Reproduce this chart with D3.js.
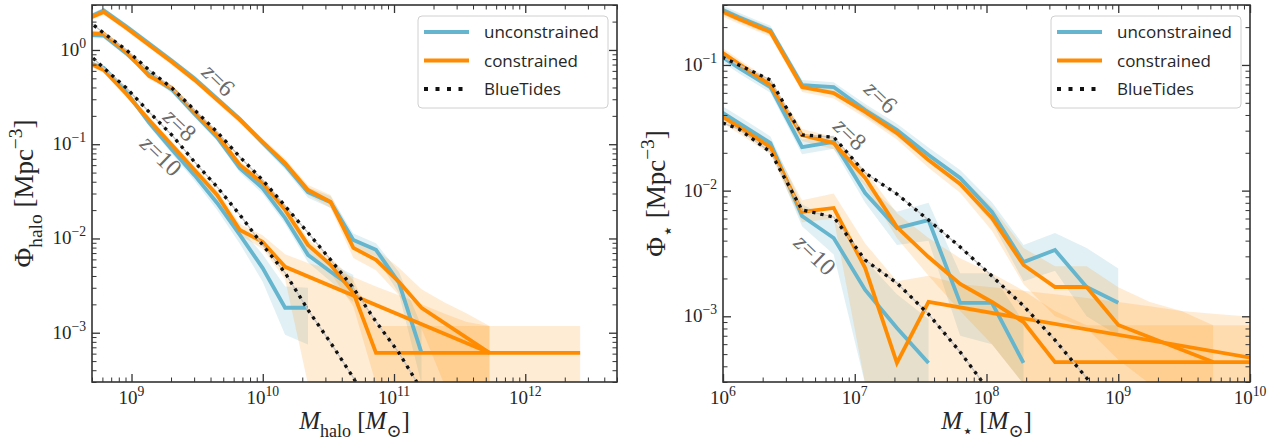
<!DOCTYPE html>
<html><head><meta charset="utf-8">
<script src="https://cdn.jsdelivr.net/npm/d3@7"></script>
<style>body{margin:0;background:#fff} svg{display:block}</style>
</head><body><svg id="c" width="1285" height="441"></svg>
<script>
// ---------------- DATA: halo mass function (left) ----------------
const haloMass = [4.12e8, 6.14e8, 9.14e8, 1.36e9, 2.03e9, 3.02e9, 4.49e9, 6.69e9, 9.96e9, 1.48e10, 2.21e10, 3.29e10, 4.90e10, 7.29e10, 1.09e11, 1.62e11, 2.41e11, 3.59e11, 5.34e11, 7.94e11, 1.18e12, 1.76e12, 2.62e12];
const _ = null;
const haloCon6   = [2.0, 2.53, 1.71, 1.13, 0.746, 0.481, 0.295, 0.181, 0.106, 0.0632, 0.0327, 0.0244, 0.00794, 0.00593, 0.00347, 0.00184, _, _, 0.000612, _, _, _, _];
const haloCon6Lo = [1.85, 2.36, 1.59, 1.05, 0.69, 0.445, 0.272, 0.166, 0.097, 0.057, 0.029, 0.021, 0.0062, 0.0046, 0.0025, 0.0011, 0, 0, 0, _, _, _, _];
const haloCon6Hi = [2.15, 2.7, 1.83, 1.21, 0.80, 0.52, 0.32, 0.197, 0.116, 0.070, 0.037, 0.029, 0.0102, 0.0077, 0.0049, 0.0029, 0.0021, 0.0016, 0.00118, _, _, _, _];
const haloUnc6   = [2.05, 2.62, 1.77, 1.17, 0.77, 0.50, 0.305, 0.185, 0.104, 0.060, 0.031, 0.0242, 0.00966, 0.00757, 0.0034, 0.000612, _, _, _, _, _, _, _];
const haloUnc6Lo = [1.9, 2.45, 1.65, 1.09, 0.72, 0.465, 0.284, 0.171, 0.095, 0.054, 0.027, 0.021, 0.0082, 0.0064, 0.0026, 0, _, _, _, _, _, _, _];
const haloUnc6Hi = [2.2, 2.8, 1.9, 1.25, 0.82, 0.535, 0.327, 0.199, 0.113, 0.066, 0.035, 0.028, 0.0113, 0.0089, 0.0044, 0.00118, _, _, _, _, _, _, _];
const haloCon8   = [1.51, 1.48, 0.953, 0.530, 0.395, 0.220, 0.125, 0.0603, 0.0388, 0.0201, 0.00855, 0.00525, 0.00265, 0.000612, 0.000612, 0.000612, 0.000612, 0.000612, 0.000612, 0.000612, 0.000612, 0.000612, 0.000612];
const haloCon8Lo = [1.40, 1.38, 0.885, 0.49, 0.365, 0.203, 0.115, 0.0545, 0.0345, 0.0175, 0.0072, 0.0043, 0.0019, 0, 0, 0, 0, 0, 0, 0, 0, 0, 0];
const haloCon8Hi = [1.62, 1.59, 1.02, 0.57, 0.425, 0.237, 0.135, 0.066, 0.043, 0.023, 0.0099, 0.0063, 0.0036, 0.00118, 0.00118, 0.00118, 0.00118, 0.00118, 0.00118, 0.00118, 0.00118, 0.00118, 0.00118];
const haloUnc8   = [1.45, 1.42, 0.92, 0.55, 0.38, 0.21, 0.118, 0.0557, 0.0343, 0.0165, 0.0067, 0.00443, 0.00299, _, _, _, _, _, _, _, _, _, _];
const haloUnc8Lo = [1.35, 1.32, 0.855, 0.51, 0.35, 0.193, 0.108, 0.050, 0.030, 0.0143, 0.0056, 0.0035, 0.0021, _, _, _, _, _, _, _, _, _, _];
const haloUnc8Hi = [1.56, 1.53, 0.99, 0.59, 0.41, 0.228, 0.128, 0.061, 0.038, 0.019, 0.0080, 0.0055, 0.0041, _, _, _, _, _, _, _, _, _, _];
const haloCon10   = [0.80, 0.614, 0.341, 0.181, 0.0982, 0.0533, 0.0290, 0.0123, 0.0092, 0.0050, _, _, _, _, _, _, _, _, 0.000612, _, _, _, _];
const haloCon10Lo = [0.74, 0.57, 0.315, 0.166, 0.089, 0.048, 0.026, 0.0108, 0.0078, 0.0037, 0, 0, 0, 0, 0, 0, 0, 0, 0, _, _, _, _];
const haloCon10Hi = [0.86, 0.66, 0.368, 0.197, 0.107, 0.059, 0.0325, 0.0142, 0.0108, 0.0068, 0.0055, 0.0047, 0.0039, 0.0031, 0.0025, 0.0020, 0.0016, 0.0013, 0.00118, _, _, _, _];
const haloUnc10   = [0.78, 0.644, 0.358, 0.17, 0.088, 0.047, 0.0238, 0.0109, 0.00488, 0.00184, 0.00184, _, _, _, _, _, _, _, _, _, _, _, _];
const haloUnc10Lo = [0.72, 0.595, 0.33, 0.155, 0.079, 0.041, 0.020, 0.0088, 0.0035, 0.00095, 0.00075, _, _, _, _, _, _, _, _, _, _, _, _];
const haloUnc10Hi = [0.84, 0.69, 0.385, 0.185, 0.097, 0.053, 0.028, 0.0132, 0.0068, 0.0031, 0.0030, _, _, _, _, _, _, _, _, _, _, _, _];
const haloBT8  = [2.35, 1.51, 1.00, 0.614, 0.395, 0.231, 0.135, 0.0733, 0.0418, 0.0221, 0.0115, 0.00593, 0.00299, 0.00131, 0.000612, 0.000248, _, _, _, _, _, _, _];
const haloBT10 = [1.08, 0.644, 0.395, 0.220, 0.125, 0.0649, 0.0352, 0.0178, 0.00855, 0.00432, 0.00175, 0.000782, 0.000333, 0.000119, _, _, _, _, _, _, _, _, _];
const haloTicksX = [1e9, 1e10, 1e11, 1e12];
const haloTicksY = [1e-3, 1e-2, 1e-1, 1e0];
const haloZLabels = [{z: '6', m: 4.6e9, phi: 0.48}, {z: '8', m: 2.34e9, phi: 0.16}, {z: '10', m: 1.68e9, phi: 0.0752}];

// ---------------- DATA: stellar mass function (right) ----------------
const starMass = [7.59e5, 1.32e6, 2.29e6, 3.98e6, 6.92e6, 1.20e7, 2.09e7, 3.63e7, 6.31e7, 1.10e8, 1.91e8, 3.31e8, 5.75e8, 1.00e9, 1.74e9, 3.02e9, 5.25e9, 9.12e9, 1.58e10];
const starCon6   = [0.300, 0.232, 0.183, 0.0667, 0.0598, 0.0423, 0.0287, 0.0175, 0.0113, 0.00605, 0.00256, 0.00171, 0.00171, 0.000853, _, _, 0.000432, _, _];
const starCon6Lo = [0.275, 0.213, 0.168, 0.061, 0.054, 0.038, 0.0255, 0.0152, 0.0096, 0.0048, 0.0018, 0.0010, 0.0008, 0.00045, 0, 0, 0, _, _];
const starCon6Hi = [0.325, 0.252, 0.199, 0.073, 0.066, 0.047, 0.032, 0.020, 0.0132, 0.0074, 0.0035, 0.0025, 0.0025, 0.0017, 0.0013, 0.0011, 0.00085, _, _];
const starUnc6   = [0.31, 0.240, 0.189, 0.0692, 0.0667, 0.0438, 0.0303, 0.0192, 0.0126, 0.00676, 0.00270, 0.00337, 0.00171, 0.00128, _, _, _, _, _];
const starUnc6Lo = [0.285, 0.22, 0.173, 0.063, 0.06, 0.039, 0.027, 0.0168, 0.0108, 0.0056, 0.0019, 0.0023, 0.0010, 0.0007, _, _, _, _, _];
const starUnc6Hi = [0.335, 0.26, 0.205, 0.076, 0.073, 0.049, 0.034, 0.022, 0.0146, 0.0081, 0.0037, 0.0046, 0.0035, 0.0024, _, _, _, _, _];
const starCon8   = [0.152, 0.102, 0.0692, 0.0277, 0.0239, 0.0126, 0.00513, 0.00296, 0.00181, 0.00130, 0.000900, 0.000432, 0.000432, 0.000432, 0.000432, 0.000432, 0.000432, 0.000432, 0.000432];
const starCon8Lo = [0.139, 0.093, 0.063, 0.0248, 0.0213, 0.0109, 0.0042, 0.0021, 0.0011, 0.0006, 0, 0, 0, 0, 0, 0, 0, 0, 0];
const starCon8Hi = [0.166, 0.111, 0.0755, 0.031, 0.0268, 0.0145, 0.0066, 0.0042, 0.0029, 0.0022, 0.0016, 0.0011, 0.00085, 0.00085, 0.00085, 0.00085, 0.00085, 0.00085, 0.00085];
const starUnc8   = [0.139, 0.0946, 0.0667, 0.0222, 0.0244, 0.00957, 0.00504, 0.00583, 0.00128, 0.00128, 0.000425, _, _, _, _, _, _, _, _];
const starUnc8Lo = [0.127, 0.086, 0.060, 0.0195, 0.0215, 0.0080, 0.0037, 0.0040, 0.0007, 0.0006, 0, _, _, _, _, _, _, _, _];
const starUnc8Hi = [0.152, 0.104, 0.074, 0.0255, 0.0275, 0.0115, 0.0068, 0.0080, 0.0022, 0.0022, 0.0009, _, _, _, _, _, _, _, _];
const starCon10   = [0.0462, 0.0321, 0.0222, 0.00676, 0.00728, 0.00242, 0.000425, 0.00130, _, _, _, _, _, _, _, _, _, _, 0.000432];
const starCon10Lo = [0.041, 0.0285, 0.0195, 0.0056, 0.006, 0, 0, 0, 0, 0, 0, 0, 0, 0, 0, 0, 0, 0, 0];
const starCon10Hi = [0.052, 0.036, 0.025, 0.0084, 0.0095, 0.0038, 0.0019, 0.0021, 0.0018, 0.0017, 0.0016, 0.0015, 0.0014, 0.0013, 0.0012, 0.0011, 0.00105, 0.0010, 0.00095];
const starUnc10   = [0.0498, 0.0345, 0.0239, 0.00628, 0.00420, 0.00162, 0.000807, 0.000425, _, _, _, _, _, _, _, _, _, _, _];
const starUnc10Lo = [0.044, 0.030, 0.021, 0.0052, 0.0031, 0, 0, 0, _, _, _, _, _, _, _, _, _, _, _];
const starUnc10Hi = [0.056, 0.039, 0.027, 0.0078, 0.0058, 0.0028, 0.0015, 0.00095, _, _, _, _, _, _, _, _, _, _, _];
const starBT8  = [0.131, 0.100, 0.0759, 0.0277, 0.0267, 0.0138, 0.00939, 0.00583, 0.00356, 0.00209, 0.00121, 0.000647, 0.000323, 0.000164, _, _, _, _, _];
const starBT10 = [0.0385, 0.0309, 0.0203, 0.00701, 0.00617, 0.00280, 0.00184, 0.00104, 0.000520, 0.000237, _, _, _, _, _, _, _, _, _];
const starTicksX = [1e6, 1e7, 1e8, 1e9, 1e10];
const starTicksY = [1e-3, 1e-2, 1e-1];
const starZLabels = [{z: '6', m: 1.58e7, phi: 0.0556}, {z: '8', m: 9.2e6, phi: 0.0282}, {z: '10', m: 4.99e6, phi: 0.00308}];

const legendNames = ['unconstrained', 'constrained', 'BlueTides'];

// ---------------- STYLE ----------------
const BLUE = '#64B5CD', ORANGE = '#FF8C00', INK = '#262626';
const SERIF = "'Liberation Serif','DejaVu Serif',serif";
const SANS = "'Open Sans','DejaVu Sans',sans-serif";
const svg = d3.select('#c');

function mathText(sel, parts, size) {
  let shift = 0;
  parts.forEach(p => {
    const target = p.sub ? size * 0.32 : p.sup ? -size * 0.42 : 0;
    sel.append('tspan').text(p.t)
      .attr('dy', target - shift)
      .style('font-size', ((p.sub || p.sup) ? size * 0.72 : size) + 'px')
      .style('font-style', p.i ? 'italic' : 'normal');
    shift = target;
  });
}
function expStr(v) { const e = Math.round(Math.log10(v)); return e < 0 ? '\u2212' + (-e) : String(e); }
function minorTicks(domain) {
  const out = [];
  const a = Math.floor(Math.log10(domain[0])), b = Math.ceil(Math.log10(domain[1]));
  for (let e = a; e <= b; e++) for (let k = 2; k <= 9; k++) {
    const v = k * Math.pow(10, e);
    if (v >= domain[0] * 0.999 && v <= domain[1] * 1.001) out.push(v);
  }
  return out;
}

function drawPanel(cfg) {
  const x = d3.scaleLog().domain(cfg.xDomain).range([cfg.left, cfg.right]);
  const y = d3.scaleLog().domain(cfg.yDomain).range([cfg.bottom, cfg.top]);
  const g = svg.append('g');
  const clipId = 'clip' + cfg.id;
  svg.append('defs').append('clipPath').attr('id', clipId).append('rect')
    .attr('x', cfg.left).attr('y', cfg.top).attr('width', cfg.right - cfg.left).attr('height', cfg.bottom - cfg.top);
  const plot = g.append('g').attr('clip-path', `url(#${clipId})`);

  const rows = (mass, v, lo, hi) => mass.map((m, i) => ({m, v: v[i], lo: lo ? lo[i] : null, hi: hi ? hi[i] : null}));
  const area = d3.area()
    .defined(d => d.hi != null)
    .x(d => x(d.m))
    .y1(d => y(d.hi))
    .y0(d => d.lo > 0 ? y(d.lo) : cfg.bottom + 2);
  const line = d3.line().x(d => x(d.m)).y(d => y(d.v));

  // bands
  cfg.series.forEach(s => {
    plot.append('path').datum(rows(cfg.mass, s.v, s.lo, s.hi))
      .attr('d', area).attr('fill', s.color).attr('fill-opacity', s.color === BLUE ? 0.2 : 0.17).attr('stroke', 'none');
  });
  // lines
  cfg.series.forEach(s => {
    plot.append('path').datum(rows(cfg.mass, s.v).filter(d => d.v != null))
      .attr('d', line).attr('fill', 'none').attr('stroke', s.color).attr('stroke-width', 3.8)
      .attr('stroke-linejoin', 'miter').attr('stroke-linecap', 'butt');
  });
  cfg.bt.forEach(v => {
    const d = rows(cfg.mass, v).filter(r => r.v != null);
    plot.append('path').datum(d).attr('d', line).attr('fill', 'none').attr('stroke', '#c4c4c4').attr('stroke-width', 1.3);
    plot.append('path').datum(d).attr('d', line).attr('fill', 'none').attr('stroke', '#111')
      .attr('stroke-width', 3.3).attr('stroke-dasharray', '3.3,5');
  });

  // axes (inward ticks on all sides)
  const xMin = minorTicks(cfg.xDomain), yMin = minorTicks(cfg.yDomain);
  const axes = [
    [d3.axisBottom(x), `translate(0,${cfg.bottom})`, cfg.xTicks, xMin],
    [d3.axisTop(x), `translate(0,${cfg.top})`, cfg.xTicks, xMin],
    [d3.axisLeft(y), `translate(${cfg.left},0)`, cfg.yTicks, yMin],
    [d3.axisRight(y), `translate(${cfg.right},0)`, cfg.yTicks, yMin]
  ];
  axes.forEach(([ax, tr, maj, min]) => {
    [[maj, 8, 1.3], [min, 4.5, 1.0]].forEach(([vals, len, w]) => {
      const a = g.append('g').attr('transform', tr)
        .call(ax.tickValues(vals).tickSize(-len).tickSizeOuter(0).tickFormat(''));
      a.select('.domain').remove();
      a.selectAll('line').attr('stroke', '#333').attr('stroke-width', w);
    });
  });
  g.append('rect').attr('x', cfg.left).attr('y', cfg.top).attr('width', cfg.right - cfg.left)
    .attr('height', cfg.bottom - cfg.top).attr('fill', 'none').attr('stroke', '#333').attr('stroke-width', 1.6);

  // tick labels
  cfg.xTicks.forEach(v => {
    const t = g.append('text').attr('x', x(v)).attr('y', cfg.bottom + 22).attr('text-anchor', 'middle')
      .attr('fill', INK).style('font-family', SERIF);
    mathText(t, [{t: '10'}, {t: expStr(v), sup: 1}], 19);
  });
  cfg.yTicks.forEach(v => {
    const t = g.append('text').attr('x', cfg.left - 6).attr('y', y(v) + 6).attr('text-anchor', 'end')
      .attr('fill', INK).style('font-family', SERIF);
    mathText(t, [{t: '10'}, {t: expStr(v), sup: 1}], 19);
  });
  // axis labels
  const xl = g.append('text').attr('x', (cfg.left + cfg.right) / 2).attr('y', cfg.bottom + 47)
    .attr('text-anchor', 'middle').attr('fill', INK).style('font-family', SERIF);
  mathText(xl, cfg.xLabel, 25);
  const yl = g.append('text').attr('transform', `translate(${cfg.yLabelX},${(cfg.top + cfg.bottom) / 2}) rotate(-90)`)
    .attr('text-anchor', 'middle').attr('fill', INK).style('font-family', SERIF);
  mathText(yl, cfg.yLabel, 27);

  // z annotations
  cfg.zLabels.forEach(z => {
    const t = g.append('text').attr('transform', `translate(${x(z.m)},${y(z.phi)}) rotate(44)`)
      .attr('text-anchor', 'middle').attr('dominant-baseline', 'central')
      .attr('fill', '#6a6a6a').style('font-family', SERIF);
    mathText(t, [{t: 'z', i: 1}, {t: '=' + z.z}], 24);
  });

  // legend
  const lg = g.append('g').attr('transform', `translate(${cfg.right - 199},${cfg.top + 11})`);
  lg.append('rect').attr('width', 190).attr('height', 92).attr('rx', 4)
    .attr('fill', '#fff').attr('fill-opacity', 0.85).attr('stroke', '#d0d0d0').attr('stroke-width', 1);
  const styles = [{c: BLUE}, {c: ORANGE}, {c: '#111', dash: '4,7.5'}];
  legendNames.forEach((name, i) => {
    const yy = 16 + i * 28.5;
    lg.append('line').attr('x1', 6).attr('x2', 51).attr('y1', yy).attr('y2', yy)
      .attr('stroke', styles[i].c).attr('stroke-width', 4).attr('stroke-dasharray', styles[i].dash || null);
    lg.append('text').attr('x', 66).attr('y', yy + 6).text(name).attr('fill', INK)
      .style('font-family', SANS).style('font-size', '17px');
  });
}

drawPanel({
  id: 'L', left: 92, right: 617, top: 5, bottom: 382,
  xDomain: [5e8, 5e12], yDomain: [3e-4, 3], mass: haloMass,
  xTicks: haloTicksX, yTicks: haloTicksY,
  series: [
    {v: haloUnc6, lo: haloUnc6Lo, hi: haloUnc6Hi, color: BLUE},
    {v: haloUnc8, lo: haloUnc8Lo, hi: haloUnc8Hi, color: BLUE},
    {v: haloUnc10, lo: haloUnc10Lo, hi: haloUnc10Hi, color: BLUE},
    {v: haloCon6, lo: haloCon6Lo, hi: haloCon6Hi, color: ORANGE},
    {v: haloCon8, lo: haloCon8Lo, hi: haloCon8Hi, color: ORANGE},
    {v: haloCon10, lo: haloCon10Lo, hi: haloCon10Hi, color: ORANGE}
  ],
  bt: [haloBT8, haloBT10],
  zLabels: haloZLabels,
  xLabel: [{t: 'M', i: 1}, {t: 'halo', sub: 1}, {t: ' ['}, {t: 'M', i: 1}, {t: '\u2299', sub: 1}, {t: ']'}],
  yLabel: [{t: '\u03A6'}, {t: 'halo', sub: 1}, {t: ' [Mpc'}, {t: '\u22123', sup: 1}, {t: ']'}],
  yLabelX: 33
});
drawPanel({
  id: 'R', left: 723, right: 1250, top: 5, bottom: 382,
  xDomain: [1e6, 1e10], yDomain: [3e-4, 0.3], mass: starMass,
  xTicks: starTicksX, yTicks: starTicksY,
  series: [
    {v: starUnc6, lo: starUnc6Lo, hi: starUnc6Hi, color: BLUE},
    {v: starUnc8, lo: starUnc8Lo, hi: starUnc8Hi, color: BLUE},
    {v: starUnc10, lo: starUnc10Lo, hi: starUnc10Hi, color: BLUE},
    {v: starCon6, lo: starCon6Lo, hi: starCon6Hi, color: ORANGE},
    {v: starCon8, lo: starCon8Lo, hi: starCon8Hi, color: ORANGE},
    {v: starCon10, lo: starCon10Lo, hi: starCon10Hi, color: ORANGE}
  ],
  bt: [starBT8, starBT10],
  zLabels: starZLabels,
  xLabel: [{t: 'M', i: 1}, {t: '\u22C6', sub: 1}, {t: ' ['}, {t: 'M', i: 1}, {t: '\u2299', sub: 1}, {t: ']'}],
  yLabel: [{t: '\u03A6'}, {t: '\u22C6', sub: 1}, {t: ' [Mpc'}, {t: '\u22123', sup: 1}, {t: ']'}],
  yLabelX: 665
});
</script></body></html>
